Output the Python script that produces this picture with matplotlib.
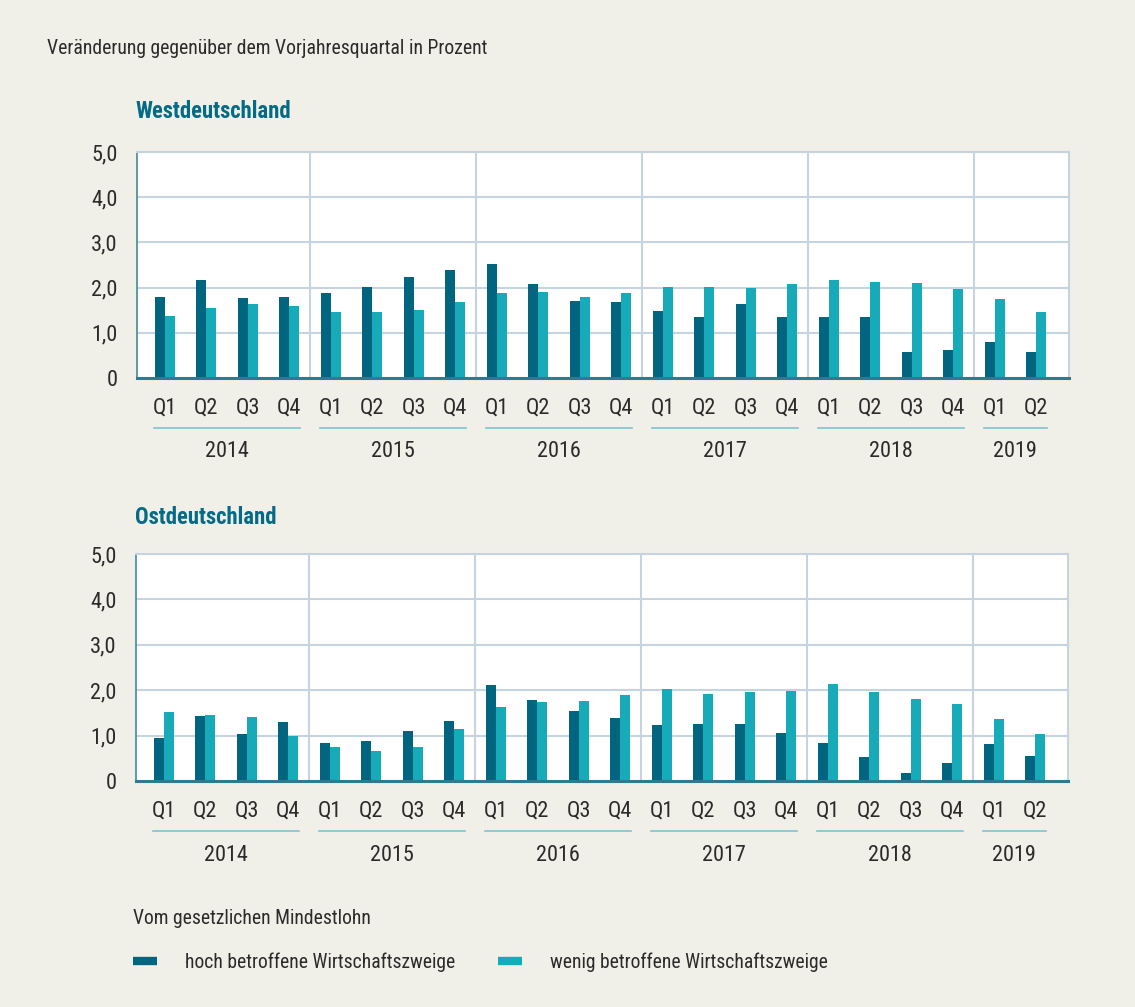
import matplotlib
matplotlib.use('Agg')
import matplotlib.pyplot as plt
import matplotlib.transforms as mtransforms
from matplotlib import font_manager
from matplotlib.lines import Line2D
import numpy as np

# condensed font if there is one, else DejaVu Sans with smaller text
installed = {f.name for f in font_manager.fontManager.ttflist}
fam = 'DejaVu Sans'
scale = 0.8
for cand in ['Roboto Condensed', 'Liberation Sans Narrow', 'PT Sans Narrow', 'Archivo Narrow',
             'Fira Sans Condensed', 'IBM Plex Sans Condensed', 'Open Sans Condensed']:
    if cand in installed:
        fam = cand
        scale = 1.0
        break
plt.rcParams['font.family'] = [fam, 'DejaVu Sans']

# data
quarters = ['Q1', 'Q2', 'Q3', 'Q4'] * 5 + ['Q1', 'Q2']
years = ['2014', '2015', '2016', '2017', '2018', '2019']
year_counts = [4, 4, 4, 4, 4, 2]

west_hoch = [1.80, 2.18, 1.76, 1.80, 1.89, 2.02, 2.24, 2.38,
             2.53, 2.07, 1.71, 1.69, 1.49, 1.36, 1.63, 1.36,
             1.34, 1.34, 0.57, 0.61, 0.79, 0.57]
west_wenig = [1.38, 1.56, 1.63, 1.60, 1.47, 1.45, 1.51, 1.69,
              1.89, 1.91, 1.80, 1.89, 2.02, 2.02, 2.00, 2.07,
              2.18, 2.13, 2.11, 1.98, 1.74, 1.47]
ost_hoch = [0.95, 1.43, 1.04, 1.30, 0.84, 0.88, 1.10, 1.32,
            2.12, 1.79, 1.54, 1.39, 1.24, 1.26, 1.26, 1.06,
            0.84, 0.53, 0.18, 0.40, 0.82, 0.55]
ost_wenig = [1.52, 1.46, 1.41, 0.99, 0.75, 0.66, 0.75, 1.15,
             1.63, 1.74, 1.76, 1.90, 2.03, 1.92, 1.96, 1.99,
             2.14, 1.96, 1.81, 1.70, 1.37, 1.04]

y_ticks = [0, 1, 2, 3, 4, 5]
y_labels = ['0', '1,0', '2,0', '3,0', '4,0', '5,0']

dark = '#02657f'
light = '#17abb9'
teal_title = '#046b86'
grid_c = '#c6d4df'
bg = '#f0efe8'
txt = '#2b2b2b'

fs_tick = 16 * scale
fs_head = 14.2 * scale
fs_title = 16.3 * scale
fs_leg = 14.1 * scale

fig = plt.figure(figsize=(11.35, 10.07), dpi=100, facecolor=bg)

fig.text(47 / 1135, 1 - 48 / 1007, 'Veränderung gegenüber dem Vorjahresquartal in Prozent',
         fontsize=fs_head, color=txt, va='center', ha='left')


def panel(rect, hoch, wenig, title, title_y):
    ax = fig.add_axes(rect)
    ax.set_facecolor('white')
    x = np.arange(len(hoch))
    w = 0.24
    ax.bar(x - w / 2, hoch, width=w, color=dark, zorder=3)
    ax.bar(x + w / 2, wenig, width=w, color=light, zorder=3)
    ax.set_xlim(-0.67, 21.79)
    ax.set_ylim(0, 5)
    ax.set_yticks(y_ticks)
    ax.set_yticklabels(y_labels, fontsize=fs_tick, color=txt)
    ax.tick_params(axis='y', length=0, pad=14)
    ax.set_xticks([])
    ax.grid(axis='y', color=grid_c, linewidth=1.5, zorder=0)
    # Jahresgrenzen
    bounds = np.cumsum(year_counts)[:-1] - 0.5
    for b in bounds:
        ax.axvline(b, color=grid_c, linewidth=1.5, zorder=0)
    for s in ['top', 'right']:
        ax.spines[s].set_color(grid_c)
        ax.spines[s].set_linewidth(1.5)
    ax.spines['left'].set_color('#3f8aa0')
    ax.spines['left'].set_linewidth(1.2)
    ax.spines['bottom'].set_color('#2d7a92')
    ax.spines['bottom'].set_linewidth(2.2)
    ax.spines['bottom'].set_zorder(4)

    trans = mtransforms.blended_transform_factory(ax.transData, ax.transAxes)
    for i, q in enumerate(quarters):
        ax.text(i, -0.133, q, transform=trans, ha='center', va='center',
                fontsize=fs_tick, color=txt)
    start = 0
    for yr, n in zip(years, year_counts):
        ax.plot([start - 0.25, start + n - 1 + 0.25], [-0.221, -0.221], transform=trans,
                color='#7cc3d3', linewidth=1.2, clip_on=False)
        ax.text(start + (n - 1) / 2, -0.327, yr, transform=trans, ha='center', va='center',
                fontsize=fs_tick, color=txt)
        start += n

    fig.text(135 / 1135, 1 - title_y / 1007, title, fontsize=fs_title, fontweight='bold',
             color=teal_title, va='center', ha='left')
    return ax


panel([0.1207, 0.6246, 0.8211, 0.2244], west_hoch, west_wenig, 'Westdeutschland', 112)
panel([0.1198, 0.2244, 0.8211, 0.2254], ost_hoch, ost_wenig, 'Ostdeutschland', 517)

fig.text(133 / 1135, 1 - 918 / 1007, 'Vom gesetzlichen Mindestlohn', fontsize=fs_leg,
         color=txt, va='center', ha='left')
handles = [Line2D([0], [0], color=dark, linewidth=6, solid_capstyle='butt'),
           Line2D([0], [0], color=light, linewidth=6, solid_capstyle='butt')]
fig.legend(handles, ['hoch betroffene Wirtschaftszweige', 'wenig betroffene Wirtschaftszweige'],
           loc='center left', bbox_to_anchor=(133 / 1135, 1 - 962 / 1007), ncol=2,
           frameon=False, fontsize=fs_leg, handlelength=1.22, handletextpad=1.42,
           columnspacing=2.2, labelcolor=txt, borderpad=0, borderaxespad=0)

fig.savefig('out.png', dpi=100, facecolor=bg)
